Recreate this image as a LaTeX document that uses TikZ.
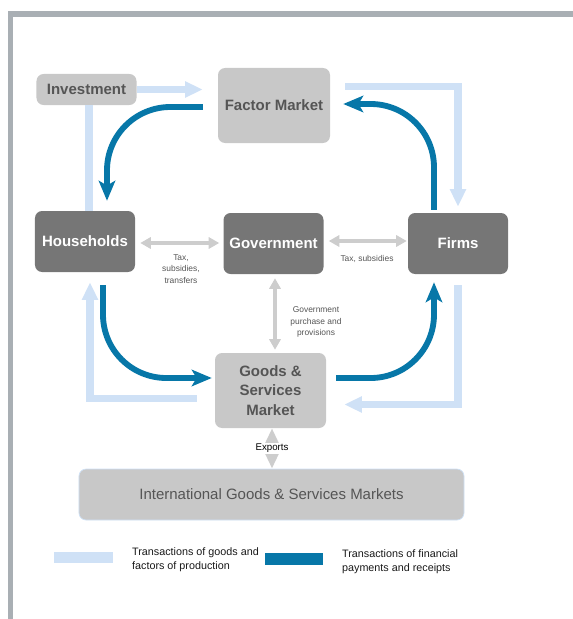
\documentclass[tikz,border=0pt]{standalone}
\usepackage{fontspec}
\setmainfont{Liberation Sans}
\usetikzlibrary{arrows.meta,calc}
\definecolor{goodsblue}{HTML}{CFE1F6}
\definecolor{moneyblue}{HTML}{0777A8}
\definecolor{boxlight}{HTML}{C8C8C8}
\definecolor{boxdark}{HTML}{767676}
\definecolor{textgray}{HTML}{555555}
\definecolor{framegray}{HTML}{A9AFB4}
\definecolor{arrowgray}{HTML}{CDCDCD}
\begin{document}
\begin{tikzpicture}[x=0.03cm,y=-0.03cm,
  lightbox/.style={fill=boxlight,rounded corners=6pt,text=textgray,align=center,inner sep=0pt,
    font=\fontsize{12.8}{16.6}\selectfont\bfseries},
  darkbox/.style={fill=boxdark,rounded corners=6pt,text=white,align=center,inner sep=0pt,
    minimum width=3cm,minimum height=1.83cm,font=\fontsize{12.8}{16.6}\selectfont\bfseries},
  goods/.style={goodsblue,line width=6.8pt,-{Triangle[length=15pt,width=13pt]}},
  money/.style={moneyblue,line width=5pt,rounded corners=1.9cm,-{Stealth[length=17pt,width=14pt,inset=4pt]}},
  twoway/.style={arrowgray,line width=3.2pt,
    {Triangle[length=9pt,width=9.5pt]}-{Triangle[length=9pt,width=9.5pt]}},
  small/.style={text=textgray,align=center,font=\fontsize{7.2}{9.8}\selectfont},
  legend/.style={anchor=west,align=left,text=black!90,font=\fontsize{9.2}{12}\selectfont}]
\useasboundingbox (0,0) rectangle (573,619);
\draw[framegray,line width=4.3pt] (10.5,619) -- (10.5,14) -- (573,14);
\node[lightbox,minimum width=3cm,minimum height=0.93cm] (inv) at (86.5,89.5) {Investment};
\node[lightbox,minimum width=3.36cm,minimum height=2.25cm] (fm) at (274,105.5) {Factor Market};
\node[darkbox] (hh) at (85,241.5) {Households};
\node[darkbox] (gov) at (273.5,243.5) {Government};
\node[darkbox] (fr) at (458,243.5) {Firms};
\node[lightbox,minimum width=3.33cm,minimum height=2.25cm] (gs) at (270.5,390.5) {Goods \&\\Services\\Market};
\node[fill=boxlight,draw=goodsblue,line width=0.6pt,rounded corners=6pt,minimum width=11.55cm,minimum height=1.53cm,
  text=textgray,font=\fontsize{12.8}{15}\selectfont] (intl) at (271.5,494.5) {International Goods \& Services Markets};
\draw[goods] (inv.east) -- ($(inv.east)+(66,0)$);
\draw[goods,-] ($(inv.south)+(2.5,0)$) -- ($(inv.south |- hh.north)+(2.5,0)$);
\draw[goods] ($(fm.east)+(15,-19)$) -| ($(fr.north)+(0,-6)$);
\draw[goods] ($(fr.south)+(0,11)$) |- ($(gs.east)+(18,14)$);
\draw[goods] ($(gs.west)+(-18,8)$) -| ($(hh.south)+(5,10)$);
\draw[money] ($(fm.west)+(-15,1.5)$) -| ($(hh.north)+(22,-10)$);
\draw[money] ($(hh.south)+(18,13)$) |- ($(gs.west)+(-3,-12.5)$);
\draw[money] ($(gs.east)+(10,-12.5)$) -| ($(fr.south)+(-24,8)$);
\draw[money] ($(fr.north)+(-24,-3)$) |- ($(fm.east)+(13,-1.5)$);
\draw[twoway] ($(hh.east)+(5,1.5)$) -- ($(gov.west)+(-4,-0.5)$);
\draw[twoway] ($(gov.east)+(5,-2.5)$) -- ($(fr.west)+(-1,-2.5)$);
\draw[twoway] ($(gov.south)+(1.5,4)$) -- ($(gov.south |- gs.north)+(1.5,-3)$);
\draw[twoway,{Triangle[length=13pt,width=11pt]}-{Triangle[length=13pt,width=11pt]}]
  ($(gs.south)+(1.5,0)$) -- ($(gs.south |- intl.north)+(1.5,0)$)
  node[midway,fill=white,inner sep=1pt,text=black,font=\fontsize{8.3}{10}\selectfont] (exp) {Exports};
\node[small] (taxhh) at (181,269) {Tax,\\subsidies,\\transfers};
\node[small] (taxfr) at (367,259) {Tax, subsidies};
\node[small] (gpp) at (316,322) {Government\\purchase and\\provisions};
\node[fill=goodsblue,minimum width=1.77cm,minimum height=0.33cm,inner sep=0pt] (lgoods) at (83.5,557.5) {};
\node[legend] (tgoods) at (128,560) {Transactions of goods and\\factors of production};
\node[fill=moneyblue,minimum width=1.74cm,minimum height=0.36cm,inner sep=0pt] (lmoney) at (294,559) {};
\node[legend] (tmoney) at (338,562) {Transactions of financial\\payments and receipts};
\end{tikzpicture}
\end{document}
